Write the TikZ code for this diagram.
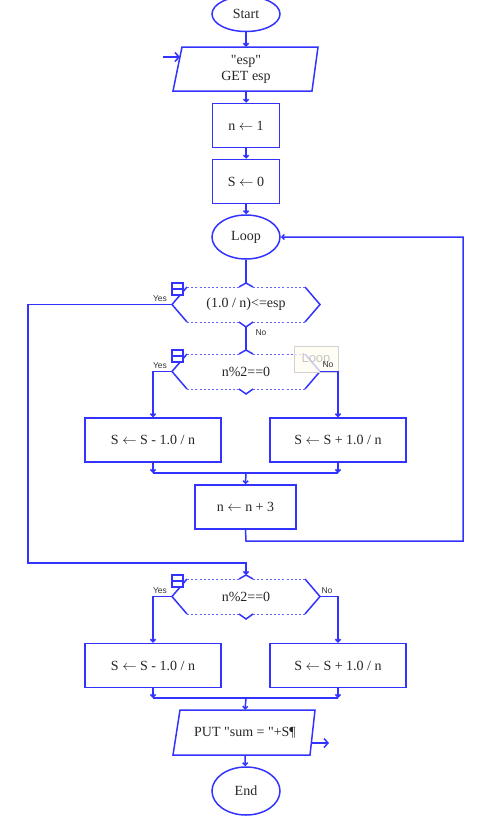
\documentclass[tikz,border=0pt]{standalone}
\usepackage{fontspec}
\setmainfont{Liberation Serif}[Ligatures=TeXOff]
\newfontfamily\lblfont{Liberation Sans}
\usetikzlibrary{arrows.meta,shapes.geometric,calc}
\definecolor{fc}{RGB}{51,51,255}
\definecolor{wmfill}{RGB}{255,253,240}
\tikzset{
  plain/.style={draw=fc, line width=1.5pt},
  conn/.style={plain, -{Straight Barb[length=2.5pt,width=5pt]}},
  bigconn/.style={plain, -{Straight Barb[length=4pt,width=9pt]}},
  dashline/.style={draw=fc!75, line width=1pt, dash pattern=on 2pt off 2.2pt},
  txt/.style={font=\fontsize{14}{16}\selectfont, text=black!85, align=center},
  box/.style={plain, txt, rectangle, minimum height=44pt, inner sep=0pt},
  term/.style={plain, txt, ellipse, minimum width=68pt, inner sep=0pt},
  iotext/.style={txt, minimum height=44pt, inner sep=0pt},
  dtext/.style={txt, inner sep=0pt},
  lbl/.style={font=\lblfont\fontsize{8.5}{9}\selectfont, text=black!80, inner sep=0pt},
}
% decision hexagon: name, cx, cy, text
\newcommand\mydec[4]{%
  \begin{scope}[shift={(#2,#3)}]
    \node[dtext] (#1) at (0,0) {#4};
    \coordinate (#1-l) at (-74,0);
    \coordinate (#1-r) at (74,0);
    \coordinate (#1-t) at (0,-21.5);
    \coordinate (#1-b) at (0,22.5);
    \draw[plain] (-59,-17.5) -- (-74,0) -- (-59,17.5);
    \draw[plain] (59,-17.5) -- (74,0) -- (59,17.5);
    \draw[dashline] (-59,-17.5) -- (-7,-17.5) (7,-17.5) -- (59,-17.5);
    \draw[dashline] (-59,17.5) -- (-7,17.5) (7,17.5) -- (59,17.5);
    \draw[plain] (-7,-17.5) -- (0,-21.5) -- (7,-17.5);
    \draw[plain] (-7,17.5) -- (0,22.5) -- (7,17.5);
    \draw[plain, line width=1.2pt, fill=white] (-74,-21.5) rectangle (-63,-9.5);
    \draw[plain, line width=1.2pt] (-74,-15.5) -- (-63,-15.5);
    \node[lbl] (#1-yes) at (-86,-6) {Yes};
  \end{scope}}
\begin{document}
\begin{tikzpicture}[x=1pt,y=-1pt]
\useasboundingbox (0,0) rectangle (492,819);

% start and input
\node[term, minimum height=35pt] (start) at (246,14) {Start};
\node[iotext] (in) at (246,69) {"esp"\\GET esp};
\draw[plain] (182,47) -- (318,47) -- (312,91) -- (173,91) -- cycle;
\coordinate (inarr) at (163,57);
\draw[bigconn] (inarr) -- (180,57);
\draw[conn] (start) -- (in.north);

\node[box, minimum width=67pt] (n1) at (246,125.5) {n $\leftarrow$ 1};
\node[box, minimum width=67pt] (s0) at (246,181.5) {S $\leftarrow$ 0};
\node[term, minimum height=44pt] (loop) at (246,237) {Loop};
\draw[conn] (in.south) -- (n1);
\draw[conn] (n1) -- (s0);
\draw[conn] (s0) -- (loop);

% decisions
\mydec{d1}{246}{304.5}{(1.0 / n)<=esp}
\mydec{d2}{246}{371.5}{n\%2==0}
\draw[plain] (loop) -- (d1-t);
\draw[plain] (d1-b) -- (d2-t);
\node[lbl] (d1no) at (261,333) {No};

\node[draw=gray!35, fill=wmfill, fill opacity=0.75, text opacity=1, minimum width=44pt, minimum height=26pt, inner sep=0pt, font=\lblfont\fontsize{13}{14}\selectfont, text=gray!45] (wm) at (316,359) {Loop};
\node[lbl] (d2no) at (328,365) {No};

\node[box, minimum width=136pt] (a1) at (153,440) {S $\leftarrow$ S - 1.0 / n};
\node[box, minimum width=136pt] (b1) at (338,440) {S $\leftarrow$ S + 1.0 / n};
\draw[conn] (d2-l) -| (a1.north);
\draw[conn] (d2-r) -| (b1.north);
\coordinate (m1) at (246,473);
\draw[conn] (a1.south) -- (a1.south |- m1);
\draw[conn] (b1.south) -- (b1.south |- m1);
\draw[plain] (a1.south |- m1) -- (b1.south |- m1);
\node[box, minimum width=101pt] (n3) at (245.5,507) {n $\leftarrow$ n + 3};
\draw[conn] (m1) -- (n3.north);
\coordinate (r1) at (246,541);
\draw[conn] (n3.south) -- (r1) -| (463,237) -- (loop.east);

% after loop
\mydec{d3}{246}{596.5}{n\%2==0}
\node[lbl] (d3no) at (327,591) {No};
\coordinate (y1) at (28,304.5);
\draw[conn] (d1-l) -- (y1) |- (246,563) -- (d3-t);

\node[box, minimum width=136pt] (a2) at (153,665.5) {S $\leftarrow$ S - 1.0 / n};
\node[box, minimum width=136pt] (b2) at (338,665.5) {S $\leftarrow$ S + 1.0 / n};
\draw[conn] (d3-l) -| (a2.north);
\draw[conn] (d3-r) -| (b2.north);
\coordinate (m2) at (246,698);
\draw[conn] (a2.south) -- (a2.south |- m2);
\draw[conn] (b2.south) -- (b2.south |- m2);
\draw[plain] (a2.south |- m2) -- (b2.south |- m2);

\node[iotext, minimum height=45pt] (out) at (245,732.5) {PUT "sum = "+S¶};
\draw[plain] (180,710) -- (315,710) -- (310,755) -- (173,755) -- cycle;
\draw[conn] (m2) -- (out.north);
\coordinate (outarr) at (329,743);
\draw[bigconn] (311,743) -- (outarr);

\node[term, minimum height=48pt] (end) at (246,791) {End};
\draw[conn] (out.south) -- (end);
\end{tikzpicture}
\end{document}
